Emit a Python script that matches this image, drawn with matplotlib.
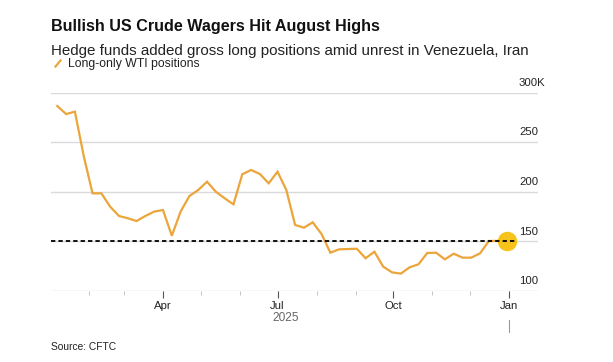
import matplotlib
matplotlib.use("Agg")
import matplotlib.pyplot as plt
import matplotlib.dates as mdates
import numpy as np
import pandas as pd

plt.rcParams['font.family'] = ['Liberation Sans', 'DejaVu Sans']

# ---- data ----
start_date = "2025-01-07"
positions_k = [286.4, 278.3, 280.7, 236.0, 198.4, 198.4, 185.0, 175.6, 173.3, 170.5,
               175.6, 180.0, 181.6, 155.7, 180.0, 195.7, 201.8, 210.1, 200.0, 193.4,
               187.3, 217.6, 221.9, 217.9, 208.5, 220.2, 201.8, 166.5, 163.8, 169.2,
               157.4, 138.6, 142.0, 142.3, 142.6, 133.0, 139.6, 124.5, 118.8, 117.5,
               123.9, 126.9, 138.3, 138.6, 131.9, 137.6, 133.6, 133.6, 138.0, 150.4,
               150.5, 150.5]
dates = pd.date_range(start_date, periods=len(positions_k), freq="7D")
reference_level = 150
y_ticks = [100, 150, 200, 250, 300]
y_tick_labels = ["100", "150", "200", "250", "300K"]
major_months = ["2025-04-01", "2025-07-01", "2025-10-01", "2026-01-01"]
major_labels = ["Apr", "Jul", "Oct", "Jan"]
year_label = "2025"
x_start, x_end = "2025-01-02", "2026-01-24"
ref_end = "2026-01-07"

LINE = "#EBA53A"
DOT = "#F6C31B"

fig = plt.figure(figsize=(6.13, 3.62), dpi=100)
W, H = 613, 362
left, right = 51 / W, 538 / W
bottom, top = 1 - 291 / H, 1 - 92.5 / H
ax = fig.add_axes([left, bottom, right - left, top - bottom])

ax.set_xlim(pd.Timestamp(x_start), pd.Timestamp(x_end))
ax.set_ylim(100, 300)

for yv in y_ticks:
    ax.axhline(yv, color="#DADADA", lw=1.0, zorder=1)

ax.plot(dates, positions_k, color=LINE, lw=1.6, zorder=3, solid_joinstyle="miter")
ax.plot([dates[-1]], [positions_k[-1]], 'o', ms=13, color=DOT, mec=DOT, zorder=4)
ax.plot([pd.Timestamp(x_start), pd.Timestamp(ref_end)], [reference_level, reference_level],
        color="black", lw=1.3, ls=(0, (2.4, 1.7)), zorder=5)

for s in ax.spines.values():
    s.set_visible(False)
ax.set_yticks([])

ax.set_xticks(pd.to_datetime(major_months))
ax.set_xticklabels(major_labels, fontsize=8.2, color="#222222")
ax.xaxis.set_minor_locator(mdates.MonthLocator())
ax.tick_params(axis="x", which="major", length=5, width=0.8, color="#555555", pad=2)
ax.tick_params(axis="x", which="minor", length=3, width=0.6, color="#BBBBBB")

# y labels above gridlines
for yv, lab in zip(y_ticks, y_tick_labels):
    ax.annotate(lab, xy=((519 - 51) / (538 - 51), (yv - 100) / 200), xycoords="axes fraction",
                xytext=(0, 3.5), textcoords="offset points", ha="left", va="bottom",
                fontsize=8.2, color="#222222")

# year label and year tick
fig.text(285.5 / W, 1 - 318 / H, year_label, ha="center", va="center", fontsize=8.6, color="#666666")
jan_x = ax.transData.transform((mdates.date2num(pd.Timestamp("2026-01-01")), 100))[0] / W
fig.add_artist(plt.Line2D([jan_x, jan_x], [1 - 320 / H, 1 - 332 / H], color="#999999", lw=0.8))

# titles
fig.text(51 / W, 1 - 31 / H, "Bullish US Crude Wagers Hit August Highs", fontsize=11.6,
         fontweight="bold", color="#111111", ha="left", va="baseline")
fig.text(51 / W, 1 - 54.5 / H, "Hedge funds added gross long positions amid unrest in Venezuela, Iran",
         fontsize=10.9, color="#222222", ha="left", va="baseline")
fig.add_artist(plt.Line2D([55.5 / W, 60.5 / W], [1 - 66.5 / H, 1 - 60.5 / H], color=LINE, lw=1.6))
fig.text(68 / W, 1 - 67 / H, "Long-only WTI positions", fontsize=8.8, color="#222222",
         ha="left", va="baseline")
fig.text(51 / W, 1 - 350 / H, "Source: CFTC", fontsize=7.4, color="#222222", ha="left", va="baseline")

fig.savefig("out.png", dpi=100)
